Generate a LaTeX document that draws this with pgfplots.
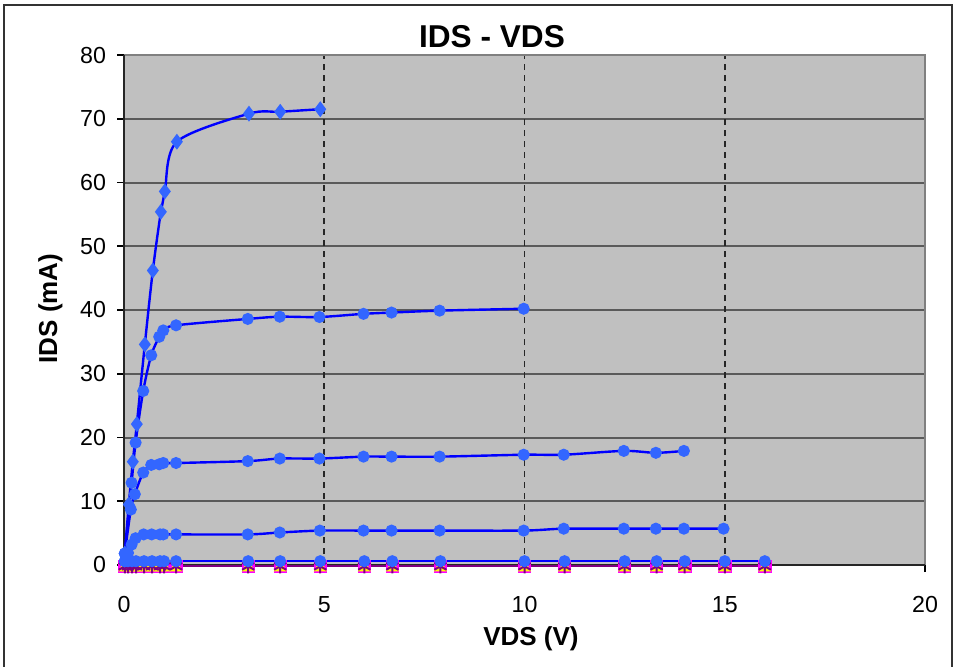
\documentclass[border=0pt]{standalone}
\usepackage{fontspec}
\setmainfont{Liberation Sans}
\usepackage{pgfplots}
\pgfplotsset{compat=1.18}
\definecolor{plotgray}{RGB}{192,192,192}
\definecolor{gridgray}{RGB}{90,90,90}
\definecolor{bordergray}{RGB}{128,128,128}
\definecolor{lineblue}{RGB}{0,0,255}
\definecolor{markblue}{RGB}{51,102,255}
\definecolor{xlmagenta}{RGB}{255,0,255}
\definecolor{xlyellow}{RGB}{255,255,0}
\definecolor{xlpurple}{RGB}{128,0,128}
\begin{document}
\begin{tikzpicture}
\path[use as bounding box] (0,0) rectangle (478.5pt,333pt);
\draw[line width=0.6pt, black!80] (2pt,-5pt) rectangle (476pt,330.5pt);
\begin{axis}[
  scale only axis, width=400.5pt, height=255pt,
  at={(62pt,50.5pt)}, anchor=south west,
  xmin=0, xmax=20, ymin=0, ymax=80,
  xtick={0,5,10,15,20}, ytick={0,10,20,30,40,50,60,70,80},
  axis background/.style={fill=plotgray},
  axis line style={draw=none},
  ymajorgrids, major grid style={draw=gridgray, line width=1pt},
  tick pos=left, tick align=outside, major tick length=3.5pt,
  major tick style={black, line width=0.8pt},
  /pgf/number format/assume math mode=true,
  ticklabel style={font=\fontsize{11.6}{13}\selectfont},
  yticklabel style={xshift=-2pt},
  xticklabel style={yshift=-8.5pt},
  clip=false,
]
\draw[black!85, dash pattern=on 3pt off 2.5pt, line width=0.8pt] (axis cs:5,0) -- (axis cs:5,80);
\draw[black!85, dash pattern=on 3pt off 2.5pt, line width=0.8pt] (axis cs:10,0) -- (axis cs:10,80);
\draw[black!85, dash pattern=on 3pt off 2.5pt, line width=0.8pt] (axis cs:15,0) -- (axis cs:15,80);
\draw[bordergray, line width=0.9pt] (axis cs:0,80) -- (axis cs:20,80) -- (axis cs:20,0);
\draw[black!85, line width=1pt] (axis cs:0,80) -- (axis cs:0,0) -- (axis cs:20,0);
% bottom series at zero
\addplot[only marks, mark=square*, mark size=3.1pt, color=xlmagenta] coordinates {
(0.02,-0.2)(0.1,-0.2)(0.2,-0.2)(0.3,-0.2)(0.5,-0.2)(0.7,-0.2)(0.9,-0.2)(1.0,-0.2)(1.3,-0.2)(3.1,-0.2)(3.9,-0.2)(4.9,-0.2)(6,-0.2)(6.7,-0.2)(7.9,-0.2)(10,-0.2)(11,-0.2)(12.5,-0.2)(13.3,-0.2)(14,-0.2)(15,-0.2)(16,-0.2)};
\addplot[only marks, mark=triangle*, mark size=3.4pt, color=xlyellow] coordinates {
(0.02,-0.4)(0.1,-0.4)(0.2,-0.4)(0.3,-0.4)(0.5,-0.4)(0.7,-0.4)(0.9,-0.4)(1.0,-0.4)(1.3,-0.4)(3.1,-0.4)(3.9,-0.4)(4.9,-0.4)(6,-0.4)(6.7,-0.4)(7.9,-0.4)(10,-0.4)(11,-0.4)(12.5,-0.4)(13.3,-0.4)(14,-0.4)(15,-0.4)(16,-0.4)};
\addplot[xlpurple, line width=1.2pt, mark=asterisk, mark size=3.5pt, mark options={line width=1pt}] coordinates {
(0.02,-0.2)(0.1,-0.2)(0.2,-0.2)(0.3,-0.2)(0.5,-0.2)(0.7,-0.2)(0.9,-0.2)(1.0,-0.2)(1.3,-0.2)(3.1,-0.2)(3.9,-0.2)(4.9,-0.2)(6,-0.2)(6.7,-0.2)(7.9,-0.2)(10,-0.2)(11,-0.2)(12.5,-0.2)(13.3,-0.2)(14,-0.2)(15,-0.2)(16,-0.2)};
% curve 5
\addplot[lineblue, line width=1.2pt, mark=*, mark size=2.4pt, mark options={draw=markblue, fill=markblue}] coordinates {
(0.02,0.6)(0.1,0.6)(0.2,0.6)(0.3,0.6)(0.5,0.6)(0.7,0.6)(0.9,0.6)(1.0,0.6)(1.3,0.6)(3.1,0.6)(3.9,0.6)(4.9,0.6)(6,0.6)(6.7,0.6)(7.9,0.6)(10,0.6)(11,0.6)(12.5,0.6)(13.3,0.6)(14,0.6)(15,0.6)(16,0.6)};
% curve 4
\addplot[lineblue, line width=1.2pt, smooth, mark=*, mark size=2.4pt, mark options={draw=markblue, fill=markblue}] coordinates {
(0.02,0.6)(0.1,1.9)(0.19,3.2)(0.29,4.2)(0.49,4.8)(0.69,4.8)(0.9,4.8)(0.98,4.8)(1.3,4.8)(3.09,4.8)(3.89,5.1)(4.89,5.4)(5.98,5.4)(6.68,5.4)(7.88,5.4)(9.98,5.4)(10.98,5.7)(12.48,5.7)(13.28,5.7)(13.98,5.7)(14.97,5.7)};
% curve 3
\addplot[lineblue, line width=1.2pt, smooth, mark=*, mark size=2.4pt, mark options={draw=markblue, fill=markblue}] coordinates {
(0.02,1.8)(0.17,8.7)(0.27,11.1)(0.48,14.5)(0.68,15.7)(0.88,15.8)(0.98,16.0)(1.3,16.0)(3.09,16.3)(3.89,16.7)(4.88,16.7)(5.98,17.0)(6.68,17.0)(7.88,17.0)(9.98,17.3)(10.98,17.3)(12.48,17.9)(13.28,17.6)(13.98,17.9)};
% curve 2
\addplot[lineblue, line width=1.2pt, smooth, mark=*, mark size=2.4pt, mark options={draw=markblue, fill=markblue}] coordinates {
(0.02,1.8)(0.19,12.9)(0.29,19.2)(0.48,27.3)(0.68,32.9)(0.88,35.8)(0.98,36.8)(1.3,37.6)(3.09,38.6)(3.89,38.95)(4.88,38.9)(5.98,39.4)(6.68,39.6)(7.88,39.9)(9.98,40.2)};
% curve 1
\addplot[lineblue, line width=1.2pt, smooth, mark=diamond*, mark size=3pt, mark options={draw=markblue, fill=markblue}] coordinates {
(0.02,1.8)(0.12,9.5)(0.22,16.2)(0.32,22.1)(0.52,34.6)(0.72,46.2)(0.92,55.4)(1.02,58.6)(1.32,66.4)(3.12,70.8)(3.9,71.1)(4.9,71.5)};
\end{axis}
\node[anchor=base, font=\fontsize{15.8}{18}\selectfont\bfseries] at (246pt,309pt) {IDS - VDS};
\node[anchor=base, font=\fontsize{13}{15}\selectfont\bfseries] at (265.5pt,10.5pt) {VDS (V)};
\node[anchor=base, rotate=90, font=\fontsize{13}{15}\selectfont\bfseries] at (28.5pt,178.75pt) {IDS (mA)};
\end{tikzpicture}
\end{document}
